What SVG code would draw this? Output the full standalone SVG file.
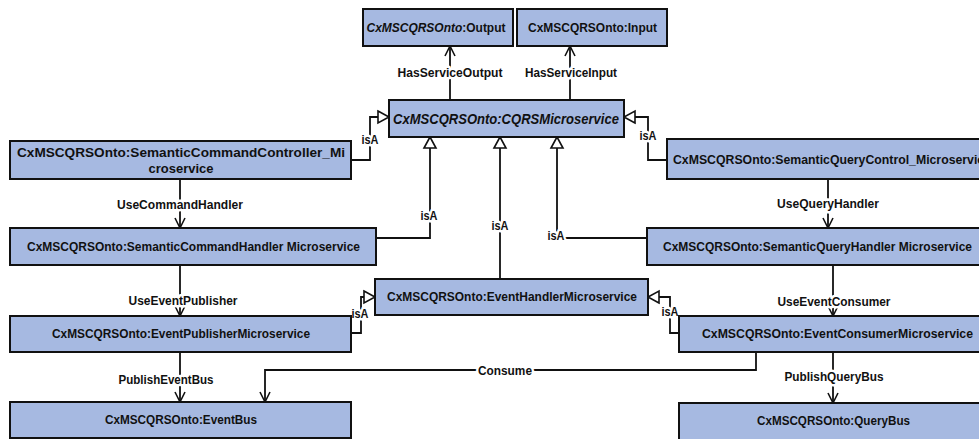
<svg xmlns="http://www.w3.org/2000/svg" width="979" height="439" viewBox="0 0 979 439">
  <style>
    .box { fill: #a6b9e1; stroke: #111; stroke-width: 2; }
    .t { font-family: "Liberation Sans", Arial, sans-serif; font-weight: bold; font-size: 12.5px; fill: #111; text-anchor: middle; dominant-baseline: central; }
    .big { font-size: 15px; font-style: italic; }
    .it { font-style: italic; }
    .edge { fill: none; stroke: #111; stroke-width: 1.8; }
    .lbl { font-family: "Liberation Sans", Arial, sans-serif; font-weight: bold; font-size: 12px; fill: #111; text-anchor: middle; dominant-baseline: central; stroke: #fff; stroke-width: 5; stroke-linejoin: round; paint-order: stroke; }
  </style>
  <defs>
    <marker id="open" viewBox="-1 -1 13 12" refX="10" refY="5" markerWidth="13" markerHeight="12" markerUnits="userSpaceOnUse" orient="auto" overflow="visible">
      <path d="M0,0 L10,5 L0,10" fill="none" stroke="#111" stroke-width="1.6"/>
    </marker>
    <marker id="tri" viewBox="-1 -1 14 14" refX="11" refY="6" markerWidth="14" markerHeight="14" markerUnits="userSpaceOnUse" orient="auto" overflow="visible">
      <path d="M0,0 L11,6 L0,12 Z" fill="#fff" stroke="#111" stroke-width="1.6"/>
    </marker>
  </defs>

  <!-- connectors -->
  <g id="connectors">
    <path class="edge" d="M450,100 V46" marker-end="url(#open)"/>
    <path class="edge" d="M570,100 V46" marker-end="url(#open)"/>
    <path class="edge" d="M351,160 H370 V117 H389" marker-end="url(#tri)"/>
    <path class="edge" d="M667,160 H648 V117 H624" marker-end="url(#tri)"/>
    <path class="edge" d="M376,238 H430 V137" marker-end="url(#tri)"/>
    <path class="edge" d="M500,279 V137" marker-end="url(#tri)"/>
    <path class="edge" d="M647,238 H557 V137" marker-end="url(#tri)"/>
    <path class="edge" d="M180,179 V228" marker-end="url(#open)"/>
    <path class="edge" d="M828,179 V228" marker-end="url(#open)"/>
    <path class="edge" d="M180,265 V316" marker-end="url(#open)"/>
    <path class="edge" d="M833,265 V316" marker-end="url(#open)"/>
    <path class="edge" d="M351,333 H361 V297 H375" marker-end="url(#tri)"/>
    <path class="edge" d="M679,333 H670 V297 H648" marker-end="url(#tri)"/>
    <path class="edge" d="M180,352 V402" marker-end="url(#open)"/>
    <path class="edge" d="M833,352 V403" marker-end="url(#open)"/>
    <path class="edge" d="M756,352 V370 H265 V402" marker-end="url(#open)"/>

    <text class="lbl" x="450" y="73" textLength="105" lengthAdjust="spacingAndGlyphs">HasServiceOutput</text>
    <text class="lbl" x="571" y="73" textLength="92" lengthAdjust="spacingAndGlyphs">HasServiceInput</text>
    <text class="lbl" x="370" y="140" textLength="17" lengthAdjust="spacingAndGlyphs">isA</text>
    <text class="lbl" x="648" y="136" textLength="17" lengthAdjust="spacingAndGlyphs">isA</text>
    <text class="lbl" x="429" y="216" textLength="17" lengthAdjust="spacingAndGlyphs">isA</text>
    <text class="lbl" x="500" y="226" textLength="17" lengthAdjust="spacingAndGlyphs">isA</text>
    <text class="lbl" x="556" y="236" textLength="17" lengthAdjust="spacingAndGlyphs">isA</text>
    <text class="lbl" x="180" y="205" textLength="126" lengthAdjust="spacingAndGlyphs">UseCommandHandler</text>
    <text class="lbl" x="828" y="204" textLength="102" lengthAdjust="spacingAndGlyphs">UseQueryHandler</text>
    <text class="lbl" x="183" y="301" textLength="109" lengthAdjust="spacingAndGlyphs">UseEventPublisher</text>
    <text class="lbl" x="834" y="302" textLength="113" lengthAdjust="spacingAndGlyphs">UseEventConsumer</text>
    <text class="lbl" x="360" y="314" textLength="17" lengthAdjust="spacingAndGlyphs">isA</text>
    <text class="lbl" x="670" y="312" textLength="17" lengthAdjust="spacingAndGlyphs">isA</text>
    <text class="lbl" x="166" y="380" textLength="95" lengthAdjust="spacingAndGlyphs">PublishEventBus</text>
    <text class="lbl" x="834" y="377" textLength="99" lengthAdjust="spacingAndGlyphs">PublishQueryBus</text>
    <text class="lbl" x="505" y="371" textLength="54" lengthAdjust="spacingAndGlyphs">Consume</text>
  </g>

  <!-- nodes -->
  <g id="output">
    <rect class="box" x="363" y="9" width="150" height="37"/>
    <text class="t" x="436" y="27.5" textLength="139" lengthAdjust="spacingAndGlyphs"><tspan class="it">CxMSCQRSOnto</tspan>:Output</text>
  </g>
  <g id="input">
    <rect class="box" x="517" y="9" width="150" height="37"/>
    <text class="t" x="592.5" y="27.5" textLength="129" lengthAdjust="spacingAndGlyphs">CxMSCQRSOnto:Input</text>
  </g>
  <g id="cqrs-microservice">
    <rect class="box" x="389" y="100" width="235" height="37"/>
    <text class="t big" x="506" y="118" textLength="226" lengthAdjust="spacingAndGlyphs">CxMSCQRSOnto:CQRSMicroservice</text>
  </g>
  <g id="semantic-command-controller">
    <rect class="box" x="10" y="141" width="341" height="38"/>
    <text class="t" x="181" y="153" textLength="328" lengthAdjust="spacingAndGlyphs">CxMSCQRSOnto:SemanticCommandController_Mi</text>
    <text class="t" x="181" y="169" textLength="65" lengthAdjust="spacingAndGlyphs">croservice</text>
  </g>
  <g id="semantic-command-handler">
    <rect class="box" x="10" y="228" width="366" height="37"/>
    <text class="t" x="193.5" y="246.5" textLength="333" lengthAdjust="spacingAndGlyphs">CxMSCQRSOnto:SemanticCommandHandler Microservice</text>
  </g>
  <g id="event-handler">
    <rect class="box" x="375" y="279" width="273" height="36"/>
    <text class="t" x="512" y="297" textLength="250" lengthAdjust="spacingAndGlyphs">CxMSCQRSOnto:EventHandlerMicroservice</text>
  </g>
  <g id="event-publisher">
    <rect class="box" x="10" y="316" width="341" height="36"/>
    <text class="t" x="181" y="334" textLength="258" lengthAdjust="spacingAndGlyphs">CxMSCQRSOnto:EventPublisherMicroservice</text>
  </g>
  <g id="event-bus">
    <rect class="box" x="10" y="402" width="341" height="36"/>
    <text class="t" x="181" y="420" textLength="152" lengthAdjust="spacingAndGlyphs">CxMSCQRSOnto:EventBus</text>
  </g>
  <g id="semantic-query-control">
    <rect class="box" x="667" y="139" width="330" height="40"/>
    <text class="t" x="673" y="160" style="text-anchor:start" textLength="318" lengthAdjust="spacingAndGlyphs">CxMSCQRSOnto:SemanticQueryControl_Microservice</text>
  </g>
  <g id="semantic-query-handler">
    <rect class="box" x="647" y="228" width="350" height="37"/>
    <text class="t" x="817.5" y="246.5" textLength="309" lengthAdjust="spacingAndGlyphs">CxMSCQRSOnto:SemanticQueryHandler Microservice</text>
  </g>
  <g id="event-consumer">
    <rect class="box" x="679" y="316" width="310" height="36"/>
    <text class="t" x="837.5" y="334" textLength="271" lengthAdjust="spacingAndGlyphs">CxMSCQRSOnto:EventConsumerMicroservice</text>
  </g>
  <g id="query-bus">
    <rect class="box" x="679" y="403" width="310" height="37"/>
    <text class="t" x="833.5" y="421" textLength="153" lengthAdjust="spacingAndGlyphs">CxMSCQRSOnto:QueryBus</text>
  </g>
</svg>
